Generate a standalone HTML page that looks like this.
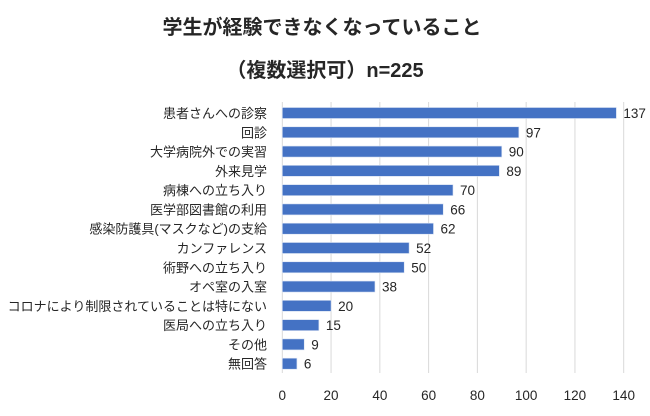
<!DOCTYPE html>
<html><head><meta charset="utf-8">
<style>
html,body{margin:0;padding:0;background:#fff;}
body{width:650px;height:411px;overflow:hidden;}
svg text{font-family:"Liberation Sans","Noto Sans CJK JP",sans-serif;fill:#262626;}
</style></head>
<body>
<svg id="chart" width="650" height="411" viewBox="0 0 650 411" xmlns="http://www.w3.org/2000/svg">
<text x="322" y="34" text-anchor="middle" font-size="20" font-weight="bold">学生が経験できなくなっていること</text>
<text x="325" y="77" text-anchor="middle" font-size="20" font-weight="bold">（複数選択可）n=225</text>
<g id="grid"></g><g id="bars"></g><g id="labels"></g>
</svg>
<script>
const categories=["患者さんへの診察","回診","大学病院外での実習","外来見学","病棟への立ち入り","医学部図書館の利用","感染防護具(マスクなど)の支給","カンファレンス","術野への立ち入り","オペ室の入室","コロナにより制限されていることは特にない","医局への立ち入り","その他","無回答"];
const values=[137,97,90,89,70,66,62,52,50,38,20,15,9,6];
const ticks=[0,20,40,60,80,100,120,140];
const NS="http://www.w3.org/2000/svg";
const x0=282.3,x1=623.7,maxV=140;
const xs=v=>x0+(x1-x0)*v/maxV;
const yTop=113,yStep=(363.7-113)/13;
const yc=i=>yTop+i*yStep;
function mk(t,a,p){const e=document.createElementNS(NS,t);for(const k in a)e.setAttribute(k,a[k]);p.appendChild(e);return e;}
const grid=document.getElementById('grid'),bars=document.getElementById('bars'),labels=document.getElementById('labels');
ticks.forEach(t=>{
  const l=mk('line',{x1:xs(t),x2:xs(t),y1:102,y2:373,stroke:'#d9d9d9','stroke-width':1},grid);
  
  
  const tx=mk('text',{x:xs(t),y:400,'text-anchor':'middle','font-size':13.5},grid);
  tx.textContent=t;
  
  
});
categories.forEach((c,i)=>{
  const y=yc(i);
  const r=mk('rect',{x:x0,y:y-5.5,width:xs(values[i])-x0,height:11,fill:'#4472c4',stroke:'#dae3f3','stroke-width':0.6},bars);
  
  
  const v=mk('text',{x:xs(values[i])+7,y:y+5,'font-size':13.5},labels);
  v.textContent=values[i];
  
  
  const cl=mk('text',{x:267,y:y+5,'text-anchor':'end','font-size':13},labels);
  cl.textContent=c;
  
  
});
</script>
</body></html>
